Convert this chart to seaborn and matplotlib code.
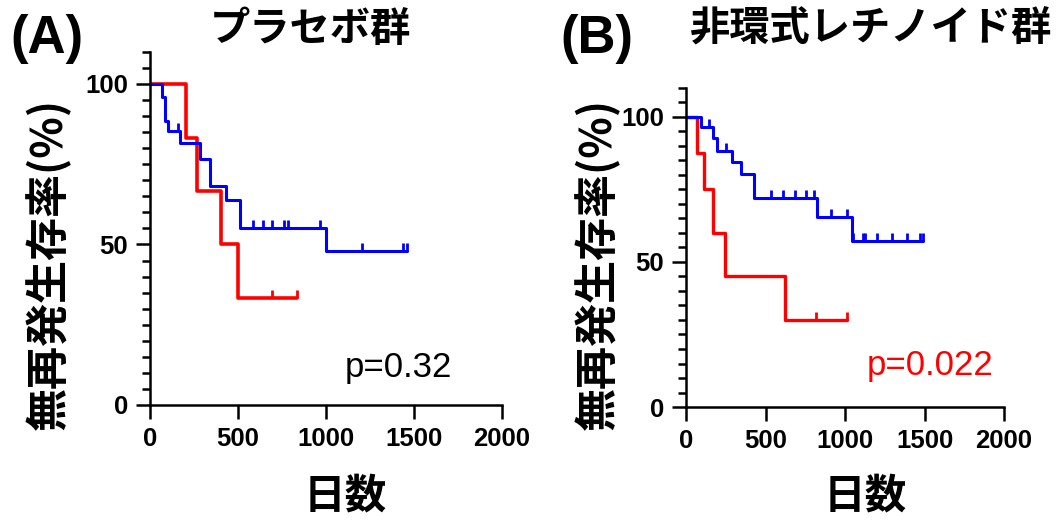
import numpy as np
import matplotlib
matplotlib.use('Agg')
import matplotlib.pyplot as plt
from matplotlib.ticker import MultipleLocator, FixedLocator
import seaborn as sns

# Panel A: placebo group (time in days, survival in %)
a_red_t = [0, 203, 265, 401, 502, 837]
a_red_s = [100, 83.3, 66.7, 50.0, 33.3, 33.3]
a_red_cens = [691, 837]
a_blue_t = [0, 70, 85, 104, 170, 284, 341, 432, 511, 1000, 1458]
a_blue_s = [100, 96.0, 88.5, 85.4, 81.5, 76.6, 68.2, 63.8, 55.2, 48.0, 48.0]
a_blue_cens = [161, 587, 644, 695, 763, 786, 966, 1203, 1440, 1458]

# Panel B: acyclic retinoid group
b_red_t = [0, 71, 113, 172, 245, 623, 1011]
b_red_s = [100, 87.5, 75.0, 60.0, 45.0, 30.0, 30.0]
b_red_cens = [818, 1011]
b_blue_t = [0, 92, 172, 197, 291, 346, 428, 826, 1042, 1489]
b_blue_s = [100, 96.4, 92.6, 88.4, 84.6, 80.3, 72.0, 65.4, 57.4, 57.4]
b_blue_cens = [147, 252, 533, 608, 686, 755, 807, 910, 1011, 1052, 1111,
               1126, 1199, 1297, 1388, 1472, 1489]

x_ticks = [0, 500, 1000, 1500, 2000]
y_ticks = [0, 50, 100]

sns.set_style('ticks')
plt.rcParams['font.family'] = ['Liberation Sans', 'Noto Sans CJK JP']
for key in ['text.color', 'axes.labelcolor', 'xtick.color', 'ytick.color', 'axes.edgecolor']:
    plt.rcParams[key] = 'black'
JP = ['Noto Sans CJK JP', 'Liberation Sans']


def km_curve(ax, t, s, cens, color, lw):
    sns.lineplot(x=t, y=s, drawstyle='steps-post', estimator=None, sort=False,
                 color=color, lw=lw, ax=ax)
    t = np.asarray(t)
    s = np.asarray(s)
    idx = np.searchsorted(t, cens, side='right') - 1
    ax.plot(cens, s[idx], ls='none', marker=2, ms=6, mew=2, color=color)


def style_axes(ax):
    ax.set_xlim(0, 2000)
    ax.set_ylim(0, 110)
    ax.xaxis.set_major_locator(FixedLocator(x_ticks))
    ax.yaxis.set_major_locator(FixedLocator(y_ticks))
    ax.yaxis.set_minor_locator(MultipleLocator(5))
    for side in ['top', 'right']:
        ax.spines[side].set_visible(False)
    for side in ['left', 'bottom']:
        ax.spines[side].set_linewidth(1.8)
    ax.tick_params(which='major', length=10, width=1.8, labelsize=18.5, pad=6)
    ax.tick_params(which='minor', length=5.5, width=1.8)
    for lab in ax.get_xticklabels() + ax.get_yticklabels():
        lab.set_fontweight('bold')


fig = plt.figure(figsize=(10.61, 5.2), dpi=100)
axA = fig.add_axes([0.1414, 0.2212, 0.3318, 0.679])
axB = fig.add_axes([0.6466, 0.2173, 0.2997, 0.6135])

km_curve(axA, a_red_t, a_red_s, a_red_cens, '#ff0000', 2.6)
km_curve(axA, a_blue_t, a_blue_s, a_blue_cens, '#0000ff', 2.2)
km_curve(axB, b_red_t, b_red_s, b_red_cens, '#ff0000', 2.4)
km_curve(axB, b_blue_t, b_blue_s, b_blue_cens, '#0000ff', 2.2)

for ax, xl, yl in [(axA, (0.554, -0.258), (-0.29, 0.40)),
                   (axB, (0.563, -0.279), (-0.28, 0.448))]:
    style_axes(ax)
    ax.set_xlabel('日数', fontsize=30, fontweight='bold', family=JP)
    ax.set_ylabel('無再発生存率(%)', fontsize=31, fontweight='bold', family=JP)
    ax.xaxis.set_label_coords(*xl)
    ax.yaxis.set_label_coords(*yl)
    ax.xaxis.label.set_va('center')
    ax.yaxis.label.set_va('center')

axA.text(1108, 8.75, 'p=0.32', fontsize=25, ha='left', va='baseline', color='black')
axB.text(1136, 11, 'p=0.022', fontsize=25, ha='left', va='baseline', color='#ff0000')

fig.text(10 / 1061, 1 - 53 / 520, '(A)', fontsize=38, fontweight='bold', va='baseline')
fig.text(560 / 1061, 1 - 53 / 520, '(B)', fontsize=38, fontweight='bold', va='baseline')
fig.text(210 / 1061, 1 - 29 / 520, 'プラセボ群', fontsize=29, fontweight='bold',
         family=JP, va='center')
fig.text(690 / 1061, 1 - 29 / 520, '非環式レチノイド群', fontsize=29, fontweight='bold',
         family=JP, va='center')

fig.savefig('out.png', dpi=100)
